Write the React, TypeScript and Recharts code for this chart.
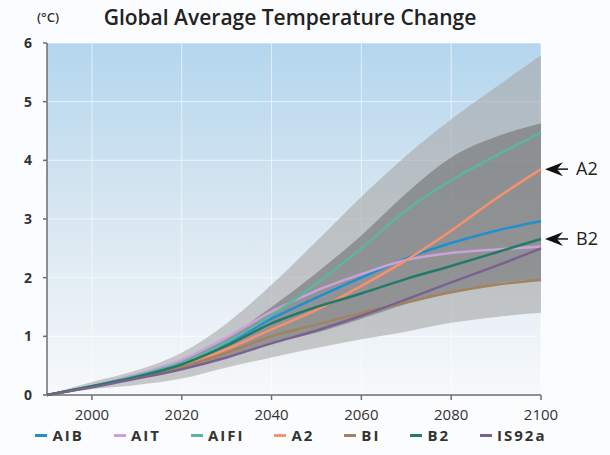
import {
  ComposedChart,
  Line,
  Area,
  XAxis,
  YAxis,
  CartesianGrid,
  Legend,
} from "recharts";

const years = [1990, 2000, 2010, 2020, 2030, 2040, 2050, 2060, 2070, 2080, 2090, 2100];

const a1b = [0, 0.15, 0.32, 0.54, 0.88, 1.3, 1.66, 2.0, 2.33, 2.59, 2.8, 2.96];
const a1t = [0, 0.16, 0.35, 0.6, 0.98, 1.42, 1.78, 2.06, 2.3, 2.42, 2.48, 2.53];
const a1fi = [0, 0.15, 0.33, 0.55, 0.9, 1.36, 1.9, 2.5, 3.15, 3.66, 4.08, 4.47];
const a2 = [0, 0.14, 0.31, 0.5, 0.78, 1.12, 1.45, 1.86, 2.3, 2.8, 3.35, 3.85];
const b1 = [0, 0.14, 0.3, 0.48, 0.72, 1.0, 1.2, 1.4, 1.58, 1.75, 1.88, 1.96];
const b2 = [0, 0.15, 0.31, 0.52, 0.84, 1.22, 1.5, 1.73, 1.98, 2.2, 2.43, 2.66];
const is92a = [0, 0.13, 0.28, 0.44, 0.64, 0.88, 1.1, 1.35, 1.63, 1.92, 2.2, 2.5];

// model range (light) and scenario envelope (dark)
const outerLow = [0, 0.1, 0.17, 0.28, 0.47, 0.64, 0.8, 0.95, 1.08, 1.23, 1.33, 1.4];
const outerHigh = [0, 0.22, 0.42, 0.72, 1.22, 1.88, 2.62, 3.38, 4.08, 4.7, 5.25, 5.79];
const innerLow = [0, 0.13, 0.28, 0.44, 0.64, 0.88, 1.06, 1.3, 1.55, 1.74, 1.9, 1.97];
const innerHigh = [0, 0.16, 0.35, 0.6, 0.98, 1.5, 2.08, 2.72, 3.44, 4.05, 4.4, 4.63];

const seriesNames = ["AIB", "AIT", "AIFI", "A2", "BI", "B2", "IS92a"];
const seriesValues = [a1b, a1t, a1fi, a2, b1, b2, is92a];
const xTicks = [2000, 2020, 2040, 2060, 2080, 2100];
const yTicks = [0, 1, 2, 3, 4, 5, 6];
const annotated = ["A2", "B2"];

const colors: Record<string, string> = {
  AIB: "#1f8fd2",
  AIT: "#c9a2da",
  AIFI: "#5cb4a4",
  A2: "#f7906e",
  BI: "#a4825c",
  B2: "#227a69",
  IS92a: "#7a6290",
};

const data = years.map((year, i) => {
  const row: any = { year, outer: [outerLow[i], outerHigh[i]], inner: [innerLow[i], innerHigh[i]] };
  seriesNames.forEach((name, k) => {
    row[name] = seriesValues[k][i];
  });
  return row;
});

const font = "'Open Sans', sans-serif";

function arrowLabel(text: string) {
  return (props: any) => {
    const { x, y, index } = props;
    if (index !== years.length - 1) return null;
    return (
      <g>
        <line x1={x + 14} y1={y} x2={x + 27} y2={y} stroke="#111" strokeWidth={1.5} />
        <path d={`M${x + 4},${y} L${x + 22},${y - 7} L${x + 16},${y} L${x + 22},${y + 7} Z`} fill="#111" />
        <text x={x + 35} y={y} dy={6} fontSize={18} fontFamily={font} fill="#222">
          {text}
        </text>
      </g>
    );
  };
}

function LegendRow() {
  return (
    <div style={{ display: "flex", justifyContent: "center", gap: 30, height: 20, alignItems: "center" }}>
      {seriesNames.map((name) => (
        <div key={name} style={{ display: "flex", alignItems: "center" }}>
          <span style={{ display: "inline-block", width: 12, height: 3, background: colors[name], marginRight: 5 }} />
          <span style={{ fontFamily: font, fontWeight: 700, fontSize: 15, letterSpacing: 2, color: "#333" }}>{name}</span>
        </div>
      ))}
    </div>
  );
}

export default function App() {
  return (
    <div style={{ position: "absolute", left: 0, top: 0, width: 610, height: 455, background: "#fbfcfd" }}>
      <div style={{ position: "absolute", left: 37, top: 8, fontFamily: font, fontSize: 13, fontWeight: 600, color: "#333" }}>
        (°C)
      </div>
      <div style={{ position: "absolute", left: 0, width: 580, top: 3, textAlign: "center", fontFamily: font, fontSize: 21, fontWeight: 600, color: "#222" }}>
        Global Average Temperature Change
      </div>
      <ComposedChart width={610} height={455} data={data} margin={{ top: 43, right: 69, left: 0, bottom: 10 }}>
        <defs>
          <linearGradient id="bgGrad" x1="0" y1="0" x2="0" y2="1">
            <stop offset="0%" stopColor="#b3d6ee" />
            <stop offset="50%" stopColor="#d9e7f1" />
            <stop offset="100%" stopColor="#f7f9fb" />
          </linearGradient>
        </defs>
        <CartesianGrid fill="url(#bgGrad)" stroke="#ffffff" strokeOpacity={0.6} verticalValues={xTicks} />
        <XAxis
          dataKey="year"
          type="number"
          domain={[1990, 2100]}
          ticks={xTicks}
          height={30}
          tickSize={5}
          tickMargin={9}
          stroke="#6a6f74"
          strokeWidth={1.5}
          tick={{ fontSize: 15, fontFamily: font, fill: "#333" }}
        />
        <YAxis
          domain={[0, 6]}
          ticks={yTicks}
          width={47}
          tickSize={4}
          tickMargin={11}
          stroke="#6a6f74"
          strokeWidth={1.5}
          tick={{ fontSize: 14, fontFamily: font, fontWeight: 700, fill: "#333" }}
        />
        <Area dataKey="outer" type="monotone" stroke="none" fill="#a6a6a6" fillOpacity={0.6} isAnimationActive={false} />
        <Area dataKey="inner" type="monotone" stroke="none" fill="#6a6a6a" fillOpacity={0.55} isAnimationActive={false} />
        {seriesNames.map((name) => (
          <Line
            key={name}
            dataKey={name}
            type="monotone"
            stroke={colors[name]}
            strokeWidth={2.5}
            dot={false}
            isAnimationActive={false}
            label={annotated.includes(name) ? arrowLabel(name) : undefined}
          />
        ))}
        <Legend
          verticalAlign="bottom"
          wrapperStyle={{ left: 0, width: 582 }}
          content={() => <LegendRow />}
        />
      </ComposedChart>
    </div>
  );
}
